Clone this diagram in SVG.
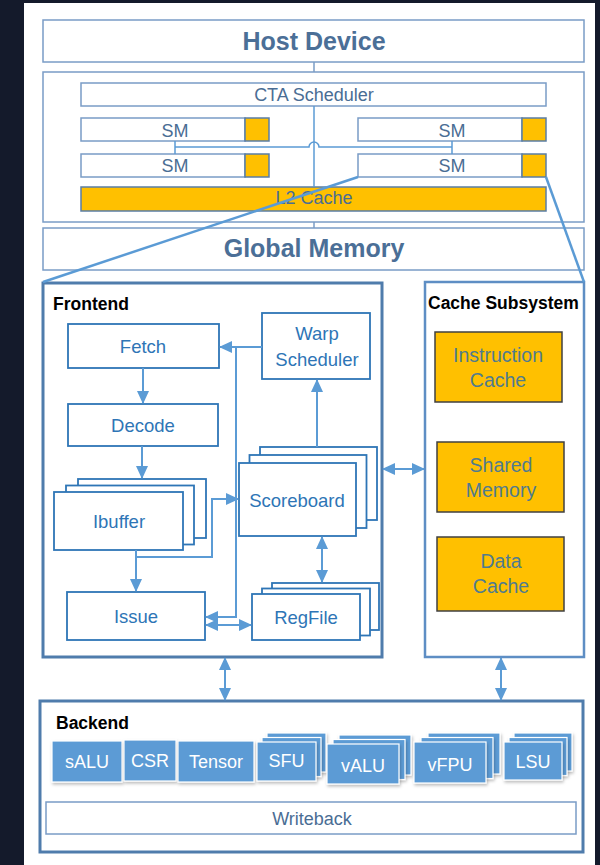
<svg xmlns="http://www.w3.org/2000/svg" width="600" height="865" viewBox="0 0 600 865">
<style>
text{font-family:"Liberation Sans",Arial,sans-serif;text-anchor:middle}
.top{fill:#fff;stroke:#7a9cc6;stroke-width:1.5}
.ttxt{fill:#4a6d94;font-size:18px}
.big{fill:#4b6f97;font-size:25px;font-weight:bold}
.yel{fill:#ffc000;stroke:#5a7da5;stroke-width:1.5}
.fb{fill:#fff;stroke:#2e75b6;stroke-width:1.8}
.ftxt{fill:#2e75b6;font-size:18.5px}
.title{fill:#000;font-size:17.5px;font-weight:bold;text-anchor:start}
.cbox{fill:#ffc000;stroke:#404040;stroke-width:1.5}
.ctxt{fill:#4f7b8f;font-size:19.5px}
.unit{fill:#5b9bd5;stroke:#fff;stroke-width:1.2;filter:url(#sh)}
.utxt{fill:#fff;font-size:18px}
.conn{fill:none;stroke:#5b9bd5;stroke-width:2}
.thin{fill:none;stroke:#5b9bd5;stroke-width:1.5}
.plain{fill:none;stroke:#7a9cc6;stroke-width:1.5}
.arr{marker-end:url(#ah)}
.dbl{marker-start:url(#ah);marker-end:url(#ah)}
</style>
<defs>
<marker id="ah" markerUnits="userSpaceOnUse" markerWidth="13" markerHeight="12" refX="12" refY="6" orient="auto-start-reverse">
<path d="M0,0 L13,6 L0,12 z" fill="#5b9bd5"/>
</marker>
<filter id="sh" x="-10%" y="-10%" width="130%" height="140%">
<feDropShadow dx="1" dy="2" stdDeviation="1.5" flood-color="#000" flood-opacity="0.25"/>
</filter>
</defs>
<rect x="0" y="0" width="600" height="865" fill="#141a2b"/>
<rect x="24" y="3" width="571" height="862" fill="#fff"/>

<g id="host-device">
<rect class="top" x="43" y="20" width="541" height="42"/>
<text class="big" x="314" y="50">Host Device</text>
</g>
<g id="gpu">
<rect class="top" x="43" y="72" width="541" height="150"/>
</g>
<g id="cta-scheduler">
<rect class="top" x="81" y="83" width="465" height="23"/>
<text class="ttxt" x="314" y="101">CTA Scheduler</text>
</g>
<g id="sm1">
<rect class="top" x="81" y="118" width="164" height="23" stroke="#5a7da5"/>
<rect class="yel" x="245" y="118" width="24" height="23"/>
<text class="ttxt" x="175" y="137">SM</text>
</g>
<g id="sm2">
<rect class="top" x="358" y="118" width="164" height="23" stroke="#5a7da5"/>
<rect class="yel" x="522" y="118" width="24" height="23"/>
<text class="ttxt" x="452" y="137">SM</text>
</g>
<g id="sm3">
<rect class="top" x="81" y="154" width="164" height="23" stroke="#5a7da5"/>
<rect class="yel" x="245" y="154" width="24" height="23"/>
<text class="ttxt" x="175" y="172">SM</text>
</g>
<g id="sm4">
<rect class="top" x="358" y="154" width="164" height="23" stroke="#5a7da5"/>
<rect class="yel" x="522" y="154" width="24" height="23"/>
<text class="ttxt" x="452" y="172">SM</text>
</g>
<g id="l2-cache">
<rect class="yel" x="81" y="187" width="465" height="24"/>
<text class="ttxt" x="314" y="204" fill="#5a7090">L2 Cache</text>
</g>
<g id="global-memory">
<rect class="top" x="43" y="228" width="541" height="42"/>
<text class="big" x="314" y="257" font-size="26px">Global Memory</text>
</g>

<g id="frontend">
<rect x="43" y="283" width="339" height="374" fill="#fff" stroke="#4f7cac" stroke-width="3"/>
<text class="title" x="53" y="310">Frontend</text>
</g>
<g id="fetch">
<rect class="fb" x="68" y="324" width="151" height="44"/>
<text class="ftxt" x="143" y="353">Fetch</text>
</g>
<g id="decode">
<rect class="fb" x="68" y="404" width="150" height="42"/>
<text class="ftxt" x="143" y="432">Decode</text>
</g>
<g id="ibuffer">
<rect class="fb" x="78" y="479" width="128" height="59"/>
<rect class="fb" x="66" y="485.5" width="128" height="59"/>
<rect class="fb" x="54" y="492" width="129" height="58"/>
<text class="ftxt" x="119" y="528">Ibuffer</text>
</g>
<g id="issue">
<rect class="fb" x="67" y="592" width="138" height="48"/>
<text class="ftxt" x="136" y="623">Issue</text>
</g>
<g id="warp-scheduler">
<rect class="fb" x="262" y="313" width="108" height="66"/>
<text class="ftxt" x="317" y="340">Warp</text>
<text class="ftxt" x="317" y="366">Scheduler</text>
</g>
<g id="scoreboard">
<rect class="fb" x="260" y="447" width="117" height="73"/>
<rect class="fb" x="249.5" y="455" width="117" height="73"/>
<rect class="fb" x="239" y="463" width="117" height="73"/>
<text class="ftxt" x="297" y="507">Scoreboard</text>
</g>
<g id="regfile">
<rect class="fb" x="272" y="583" width="107" height="47"/>
<rect class="fb" x="262" y="588.5" width="108" height="47"/>
<rect class="fb" x="252" y="594" width="108" height="46"/>
<text class="ftxt" x="306" y="624">RegFile</text>
</g>

<g id="cache-subsystem">
<rect x="425" y="282" width="159" height="375" fill="#fff" stroke="#5e8ec4" stroke-width="2.5"/>
<text class="title" x="428" y="309">Cache Subsystem</text>
</g>
<g id="instruction-cache">
<rect class="cbox" x="435" y="332" width="127" height="70"/>
<text class="ctxt" x="498" y="362">Instruction</text>
<text class="ctxt" x="498" y="387">Cache</text>
</g>
<g id="shared-memory">
<rect class="cbox" x="437" y="442" width="127" height="70"/>
<text class="ctxt" x="501" y="472">Shared</text>
<text class="ctxt" x="501" y="497">Memory</text>
</g>
<g id="data-cache">
<rect class="cbox" x="437" y="537" width="127" height="74"/>
<text class="ctxt" x="501" y="568">Data</text>
<text class="ctxt" x="501" y="593">Cache</text>
</g>

<g id="backend">
<rect x="40" y="701" width="543" height="151" fill="#fff" stroke="#4f7cac" stroke-width="3"/>
<text class="title" x="56" y="729">Backend</text>
</g>
<g id="salu">
<rect class="unit" x="52" y="741" width="70" height="41"/>
<text class="utxt" x="87" y="768">sALU</text>
</g>
<g id="csr">
<rect class="unit" x="124" y="740" width="52" height="41"/>
<text class="utxt" x="150" y="767">CSR</text>
</g>
<g id="tensor">
<rect class="unit" x="178" y="741" width="76" height="41"/>
<text class="utxt" x="216" y="768">Tensor</text>
</g>
<g id="sfu">
<rect class="unit" x="267" y="733" width="59" height="39"/>
<rect class="unit" x="262" y="737.5" width="59" height="39"/>
<rect class="unit" x="257" y="742" width="59" height="39"/>
<text class="utxt" x="286.5" y="767">SFU</text>
</g>
<g id="valu">
<rect class="unit" x="339" y="735" width="72" height="40"/>
<rect class="unit" x="333" y="739.5" width="72" height="40"/>
<rect class="unit" x="327" y="744" width="72" height="40"/>
<text class="utxt" x="363" y="771.5">vALU</text>
</g>
<g id="vfpu">
<rect class="unit" x="428" y="733" width="72" height="41"/>
<rect class="unit" x="421" y="737.5" width="72" height="41"/>
<rect class="unit" x="414" y="742" width="72" height="41"/>
<text class="utxt" x="450" y="771">vFPU</text>
</g>
<g id="lsu">
<rect class="unit" x="514" y="733" width="58" height="38"/>
<rect class="unit" x="509" y="737.5" width="58" height="38"/>
<rect class="unit" x="504" y="742" width="58" height="38"/>
<text class="utxt" x="533" y="768">LSU</text>
</g>
<g id="writeback">
<rect class="top" x="46" y="802" width="530" height="32"/>
<text class="ttxt" x="312" y="825" font-size="19px">Writeback</text>
</g>

<g id="connectors">
<line class="plain" x1="314" y1="62" x2="314" y2="72"/>
<line class="plain" x1="314" y1="222" x2="314" y2="228"/>
<line class="thin" x1="314" y1="106" x2="314" y2="187"/>
<path class="thin" d="M175,141 V154 M452,141 V154 M175,147 H309 A5,5 0 0 1 319,147 H452"/>
<line x1="358" y1="177" x2="43" y2="282" stroke="#5b9bd5" stroke-width="2.5"/>
<line x1="546" y1="177" x2="584" y2="282" stroke="#5b9bd5" stroke-width="2.5"/>

<line class="conn arr" x1="143" y1="368" x2="143" y2="403"/>
<line class="conn arr" x1="142" y1="446" x2="142" y2="478"/>
<line class="conn arr" x1="136" y1="550" x2="136" y2="591"/>
<polyline class="conn arr" points="136,557 212,557 212,499 238,499"/>
<line class="conn arr" x1="262" y1="347" x2="220" y2="347"/>
<polyline class="conn arr" points="236,347 236,617 206,617"/>
<line class="conn dbl" x1="206" y1="625" x2="251" y2="625"/>
<line class="conn arr" x1="317" y1="447" x2="317" y2="380"/>
<line class="conn dbl" x1="322" y1="537" x2="322" y2="582"/>
<line class="conn dbl" x1="383" y1="469" x2="424" y2="469"/>
<line class="conn dbl" x1="225" y1="658" x2="225" y2="700"/>
<line class="conn dbl" x1="501" y1="658" x2="501" y2="700"/>
</g>
</svg>
